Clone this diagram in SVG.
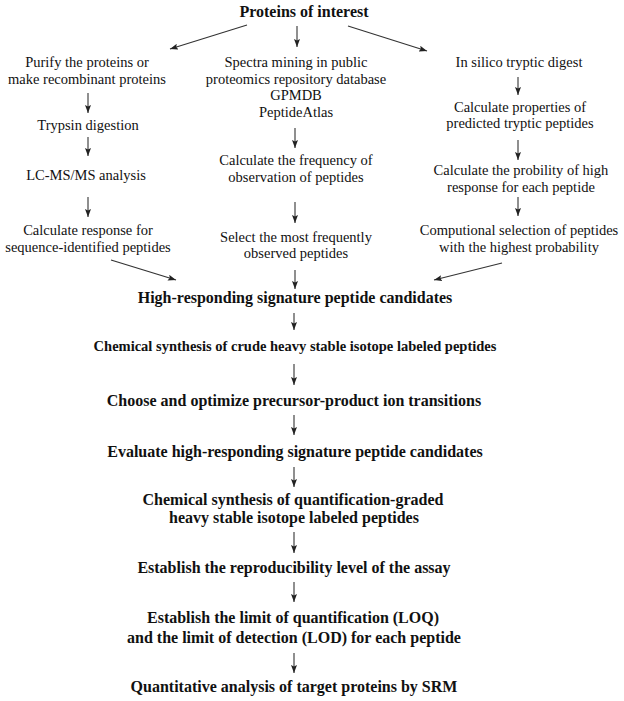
<svg xmlns="http://www.w3.org/2000/svg" width="624" height="701" viewBox="0 0 624 701">
<defs>
<style>
text{font-family:"Liberation Serif","Times New Roman",serif;fill:#111;text-anchor:middle}
.r{font-size:14.5px}
.b{font-size:16px;font-weight:bold}
.bs{font-size:14.5px;font-weight:bold}
.c line{stroke:#333;stroke-width:1.1;marker-end:url(#ah)}
</style>
<marker id="ah" viewBox="0 0 8 6" refX="8" refY="3" markerWidth="8" markerHeight="6" markerUnits="userSpaceOnUse" orient="auto">
<path d="M0,0 L8,3 L0,6 L1.5,3 z" fill="#222"/>
</marker>
</defs>
<rect width="624" height="701" fill="#fff"/>
<g class="c" id="connectors">
<line x1="247" y1="25" x2="170" y2="49"/>
<line x1="297" y1="26" x2="297" y2="47"/>
<line x1="348" y1="26" x2="427" y2="51"/>
<line x1="88" y1="93" x2="88" y2="113"/>
<line x1="88" y1="137" x2="88" y2="156"/>
<line x1="88" y1="197" x2="88" y2="217"/>
<line x1="295" y1="128" x2="295" y2="148"/>
<line x1="295" y1="202" x2="295" y2="223"/>
<line x1="295" y1="270" x2="295" y2="289"/>
<line x1="518" y1="77" x2="518" y2="95"/>
<line x1="518" y1="140" x2="518" y2="160"/>
<line x1="518" y1="197" x2="518" y2="216"/>
<line x1="111" y1="260" x2="176" y2="280"/>
<line x1="502" y1="263" x2="434" y2="280"/>
<line x1="294" y1="313" x2="294" y2="330"/>
<line x1="294" y1="364" x2="294" y2="385"/>
<line x1="294" y1="415" x2="294" y2="435"/>
<line x1="294" y1="467" x2="294" y2="487"/>
<line x1="294" y1="532" x2="294" y2="553"/>
<line x1="294" y1="582" x2="294" y2="602"/>
<line x1="294" y1="653" x2="294" y2="673"/>
</g>
<g id="proteins"><text class="b" x="304" y="17">Proteins of interest</text></g>
<g id="purify"><text class="r" x="87" y="67">Purify the proteins or</text><text class="r" x="87" y="84">make recombinant proteins</text></g>
<g id="trypsin"><text class="r" x="88" y="130">Trypsin digestion</text></g>
<g id="lcms"><text class="r" x="86" y="180">LC-MS/MS analysis</text></g>
<g id="response"><text class="r" x="88" y="235">Calculate response for</text><text class="r" x="88" y="252">sequence-identified peptides</text></g>
<g id="spectra"><text class="r" x="296" y="67">Spectra mining in public</text><text class="r" x="296" y="84">proteomics repository database</text><text class="r" x="296" y="100">GPMDB</text><text class="r" x="296" y="117">PeptideAtlas</text></g>
<g id="frequency"><text class="r" x="296" y="165">Calculate the frequency of</text><text class="r" x="296" y="182">observation of peptides</text></g>
<g id="select"><text class="r" x="296" y="242">Select the most frequently</text><text class="r" x="296" y="258">observed peptides</text></g>
<g id="insilico"><text class="r" x="519" y="67">In silico tryptic digest</text></g>
<g id="properties"><text class="r" x="520" y="112">Calculate properties of</text><text class="r" x="520" y="128">predicted tryptic peptides</text></g>
<g id="probility"><text class="r" x="521" y="175">Calculate the probility of high</text><text class="r" x="521" y="192">response for each peptide</text></g>
<g id="computional"><text class="r" x="519" y="235">Computional selection of peptides</text><text class="r" x="519" y="252">with the highest probability</text></g>
<g id="candidates"><text class="b" x="295" y="303">High-responding signature peptide candidates</text></g>
<g id="crude"><text class="bs" x="295" y="351">Chemical synthesis of crude heavy stable isotope labeled peptides</text></g>
<g id="choose"><text class="b" x="294" y="406">Choose and optimize precursor-product ion transitions</text></g>
<g id="evaluate"><text class="b" x="295" y="457">Evaluate high-responding signature peptide candidates</text></g>
<g id="quantgrade"><text class="b" x="293" y="505">Chemical synthesis of quantification-graded</text><text class="b" x="294" y="523">heavy stable isotope labeled peptides</text></g>
<g id="reproducibility"><text class="b" x="294" y="573">Establish the reproducibility level of the assay</text></g>
<g id="limits"><text class="b" x="293" y="623">Establish the limit of quantification (LOQ)</text><text class="b" x="294" y="643">and the limit of detection (LOD) for each peptide</text></g>
<g id="srm"><text class="b" x="294" y="692">Quantitative analysis of target proteins by SRM</text></g>
</svg>
